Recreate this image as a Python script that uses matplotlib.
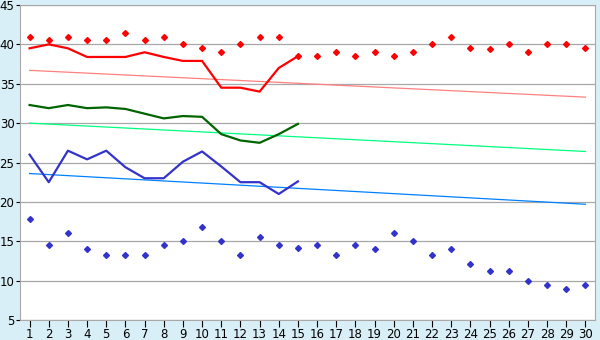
import numpy as np
import matplotlib.pyplot as plt

days = list(range(1, 31))
days_line = list(range(1, 16))

high_pts = [41, 40.5, 41, 40.5, 40.5, 41.5, 40.5, 41, 40, 39.6,
            39, 40, 41, 41, 38.5, 38.5, 39, 38.5, 39, 38.5,
            39, 40, 41, 39.5, 39.4, 40, 39, 40, 40, 39.5]
low_pts = [17.8, 14.5, 16.1, 14, 13.3, 13.3, 13.3, 14.5, 15, 16.8,
           15, 13.3, 15.6, 14.5, 14.1, 14.5, 13.3, 14.5, 14, 16,
           15, 13.3, 14, 12.1, 11.2, 11.2, 10, 9.4, 8.9, 9.4]

red_line = [39.5, 40, 39.5, 38.4, 38.4, 38.4, 39, 38.4, 37.9, 37.9,
            34.5, 34.5, 34, 37, 38.5]
green_line = [32.3, 31.9, 32.3, 31.9, 32, 31.8, 31.2, 30.6, 30.9, 30.8,
              28.6, 27.8, 27.5, 28.6, 29.9]
blue_line = [26, 22.5, 26.5, 25.4, 26.5, 24.4, 23, 23, 25.1, 26.4,
             24.5, 22.5, 22.5, 21, 22.6]

trend_x = [1, 30]
red_trend = [36.7, 33.3]
green_trend = [30, 26.4]
blue_trend = [23.6, 19.7]

bg = "#d9eff7"
fig = plt.figure(figsize=(6, 3.4), dpi=100, facecolor=bg)
ax = fig.add_axes([20 / 600, 20 / 340, 575 / 600, 315 / 340])
ax.set_facecolor("white")

ax.plot(trend_x, red_trend, color="#ff8080", lw=0.9)
ax.plot(trend_x, green_trend, color="#00ff80", lw=0.9)
ax.plot(trend_x, blue_trend, color="#0080ff", lw=0.9)

ax.plot(days_line, red_line, color="#ff0000", lw=1.6)
ax.plot(days_line, green_line, color="#006400", lw=1.6)
ax.plot(days_line, blue_line, color="#3333cc", lw=1.6)

ax.plot(days, high_pts, ls="none", marker="D", ms=3, color="#ff0000")
ax.plot(days, low_pts, ls="none", marker="D", ms=3, color="#3333cc")

ax.set_xlim(0.5, 30.5)
ax.set_ylim(5, 45)
ax.set_xticks(days)
ax.set_yticks(range(5, 46, 5))
ax.yaxis.grid(True, color="#a8a8a8", lw=0.9)
ax.set_axisbelow(True)
for s in ax.spines.values():
    s.set_color("#a8a8a8")
ax.tick_params(axis="x", length=5, color="black", labelsize=8.5, pad=1)
ax.tick_params(axis="y", length=3, color="black", labelsize=8.5, pad=1)

plt.savefig("out.png", facecolor=bg)
